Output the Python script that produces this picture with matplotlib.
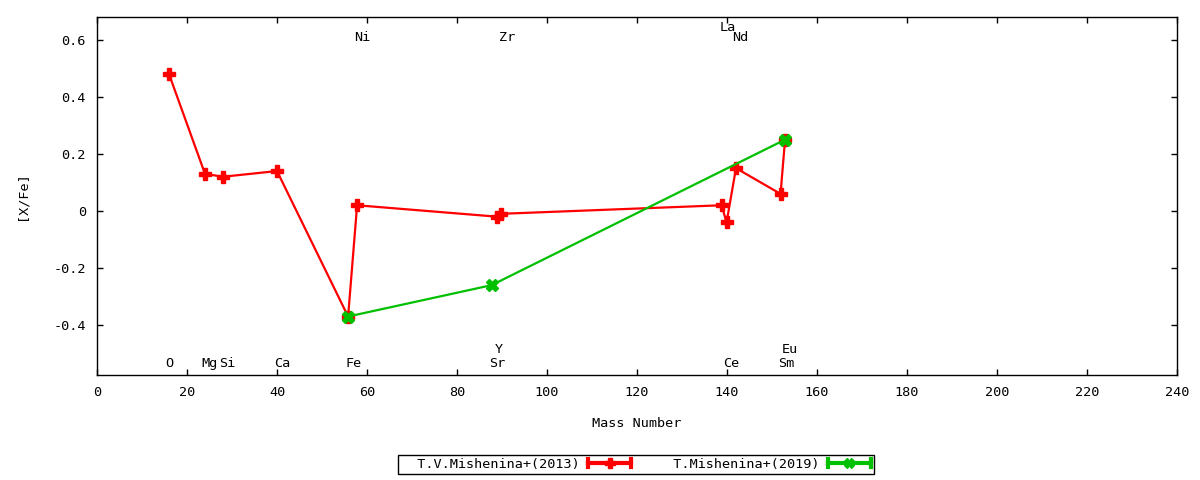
import matplotlib
matplotlib.use("Agg")
import matplotlib.pyplot as plt
from matplotlib.legend_handler import HandlerBase
from matplotlib.lines import Line2D

plt.rcParams['font.family'] = ['DejaVu Sans Mono']

# Data
red_label = "T.V.Mishenina+(2013)"
red_x = [16.0, 24.0, 28.0, 40.0, 55.8, 57.8, 88.9, 89.7, 138.8, 139.9, 142.0, 151.9, 152.9]
red_y = [0.48, 0.13, 0.12, 0.14, -0.37, 0.02, -0.02, -0.01, 0.02, -0.04, 0.15, 0.06, 0.25]

green_label = "T.Mishenina+(2019)"
green_x = [55.8, 87.7, 152.9]
green_y = [-0.37, -0.26, 0.25]

# Element labels: name, x position, y position
elem_names = ["O", "Mg", "Si", "Ca", "Fe", "Ni", "Sr", "Y", "Zr", "La", "Ce", "Nd", "Sm", "Eu"]
elem_x = [16.0, 24.9, 28.9, 41.1, 57.1, 58.9, 88.9, 89.3, 91.1, 140.2, 140.9, 142.9, 153.1, 154.0]
elem_y = [-0.533, -0.533, -0.533, -0.533, -0.533, 0.607, -0.533, -0.484, 0.607, 0.643, -0.533, 0.607, -0.533, -0.484]

xticks = list(range(0, 241, 20))
yticks = [-0.4, -0.2, 0.0, 0.2, 0.4, 0.6]
ytick_labels = ["-0.4", "-0.2", "0", "0.2", "0.4", "0.6"]

RED = "#ff0000"
GREEN = "#00c000"
FS = 9.7


class ErrLineHandler(HandlerBase):
    def __init__(self, color, marker, ms):
        super().__init__()
        self.color = color
        self.marker = marker
        self.ms = ms

    def create_artists(self, legend, orig_handle, xdescent, ydescent,
                       width, height, fontsize, trans):
        y = height / 2.0 - ydescent
        x0 = -xdescent
        x1 = -xdescent + width
        cap = height * 0.42
        arts = [
            Line2D([x0, x1], [y, y], color=self.color, lw=3.0, transform=trans),
            Line2D([x0, x0], [y - cap, y + cap], color=self.color, lw=3.0, transform=trans),
            Line2D([x1, x1], [y - cap, y + cap], color=self.color, lw=3.0, transform=trans),
            Line2D([(x0 + x1) / 2], [y], color=self.color, marker=self.marker,
                   ms=self.ms, ls='none', transform=trans),
        ]
        return arts


fig = plt.figure(figsize=(12, 4.8), dpi=100)
ax = fig.add_axes([97 / 1200, 1 - 375 / 480, (1177 - 97) / 1200, (375 - 17) / 480])

ax.plot(red_x, red_y, color=RED, lw=1.6, marker='P', ms=8, mec=RED, mfc=RED, zorder=3)
ax.plot(green_x, green_y, color=GREEN, lw=1.6, marker='X', ms=9, mec=GREEN, mfc=GREEN, zorder=4)

for n, x, y in zip(elem_names, elem_x, elem_y):
    ax.text(x, y, n, ha='center', va='center', fontsize=FS, color='black')

ax.set_xlim(0, 240)
ax.set_ylim(-0.575, 0.68)
ax.set_xticks(xticks)
ax.set_xticklabels([str(t) for t in xticks])
ax.set_yticks(yticks)
ax.set_yticklabels(ytick_labels)
ax.tick_params(direction='in', length=4, width=1, top=True, right=True,
               labelsize=FS, pad=8)
for s in ax.spines.values():
    s.set_linewidth(1.0)

ax.set_xlabel("Mass Number", fontsize=FS, labelpad=13)
ax.set_ylabel("[X/Fe]", fontsize=FS, labelpad=18)

h1 = Line2D([], [], color=RED)
h2 = Line2D([], [], color=GREEN)
leg = fig.legend([h1, h2], ["  " + red_label, "  " + green_label],
                 handler_map={h1: ErrLineHandler(RED, 'P', 7), h2: ErrLineHandler(GREEN, 'X', 7)},
                 loc='center', bbox_to_anchor=(636 / 1200, 1 - 464.5 / 480),
                 ncol=2, markerfirst=False, fontsize=FS, frameon=True, fancybox=False,
                 edgecolor='black', framealpha=1, handlelength=3.2, handletextpad=0.6,
                 columnspacing=1.9, borderpad=0.25, borderaxespad=0)
leg.get_frame().set_linewidth(1.0)

fig.savefig("out.png", dpi=100)
